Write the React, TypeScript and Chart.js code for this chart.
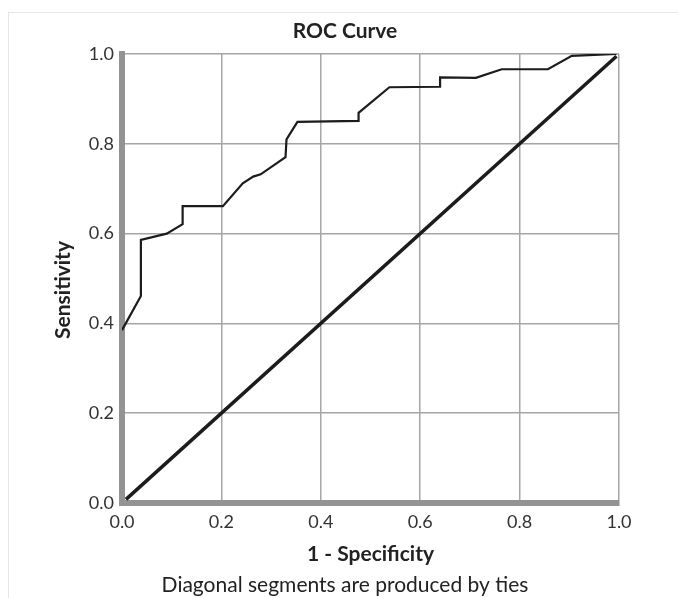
import React, { useEffect, useRef } from "react";
import { Chart, registerables } from "chart.js";

Chart.register(...registerables);

// ROC curve points (1 - Specificity, Sensitivity)
const rocFpr = [0.0, 0.038, 0.038, 0.09, 0.122, 0.122, 0.203, 0.243, 0.264, 0.279, 0.329, 0.331, 0.353, 0.476, 0.476, 0.538, 0.64, 0.64, 0.712, 0.764, 0.857, 0.905, 0.995];
const rocTpr = [0.385, 0.461, 0.586, 0.6, 0.621, 0.661, 0.661, 0.712, 0.727, 0.732, 0.77, 0.81, 0.849, 0.851, 0.869, 0.926, 0.927, 0.948, 0.947, 0.966, 0.966, 0.996, 1.0];

// Reference diagonal
const diagX = [0.008, 0.995];
const diagY = [0.008, 0.995];

const tickValues = [0, 0.2, 0.4, 0.6, 0.8, 1.0];

const chartTitle = "ROC Curve";
const xTitle = "1 - Specificity";
const yTitle = "Sensitivity";
const footnote = "Diagonal segments are produced by ties";

const FONT = "Lato, 'Open Sans', sans-serif";

export default function App() {
  const canvasRef = useRef<HTMLCanvasElement | null>(null);

  useEffect(() => {
    if (!canvasRef.current) return;

    const yTitlePlugin = {
      id: "yTitlePlugin",
      afterDraw(chart: any) {
        const ctx = chart.ctx;
        ctx.save();
        ctx.translate(63, 290);
        ctx.rotate(-Math.PI / 2);
        ctx.font = `bold 21px ${FONT}`;
        ctx.fillStyle = "#222222";
        ctx.textAlign = "center";
        ctx.textBaseline = "middle";
        ctx.fillText(yTitle, 0, 0);
        ctx.restore();
      },
    };

    const chart = new Chart(canvasRef.current, {
      type: "scatter",
      data: {
        datasets: [
          {
            label: "ROC",
            data: rocFpr.map((x, i) => ({ x, y: rocTpr[i] })),
            showLine: true,
            borderColor: "#1c1c1c",
            borderWidth: 2.2,
            pointRadius: 0,
            fill: false,
            tension: 0,
          },
          {
            label: "Reference",
            data: diagX.map((x, i) => ({ x, y: diagY[i] })),
            showLine: true,
            borderColor: "#1c1c1c",
            borderWidth: 3.5,
            pointRadius: 0,
            fill: false,
            tension: 0,
          },
        ],
      },
      options: {
        animation: false,
        responsive: false,
        maintainAspectRatio: false,
        layout: { padding: { left: 71, right: 59, top: 0, bottom: 0 } },
        plugins: {
          legend: { display: false },
          tooltip: { enabled: false },
          title: {
            display: true,
            text: chartTitle,
            color: "#222222",
            font: { family: FONT, size: 21, weight: "bold" },
            padding: { top: 18.4, bottom: 10.4 },
          },
          subtitle: {
            display: true,
            position: "bottom",
            text: footnote,
            color: "#222222",
            font: { family: FONT, size: 21, weight: "normal" },
            padding: { top: 0, bottom: 0.4 },
          },
        },
        scales: {
          x: {
            type: "linear",
            min: 0,
            max: 1,
            afterBuildTicks: (scale: any) => {
              scale.ticks = tickValues.map((v) => ({ value: v }));
            },
            afterFit: (scale: any) => {
              scale.height = 69.4;
            },
            ticks: {
              color: "#333333",
              font: { family: FONT, size: 18 },
              padding: 8,
              maxRotation: 0,
              callback: (v: any) => Number(v).toFixed(1),
            },
            grid: { color: "#a6a6a6", lineWidth: 1.5, drawTicks: false },
            border: { display: true, color: "#939393", width: 6 },
            title: {
              display: true,
              text: xTitle,
              color: "#222222",
              font: { family: FONT, size: 21, weight: "bold" },
              padding: { top: 0, bottom: 5.8 },
            },
          },
          y: {
            type: "linear",
            min: 0,
            max: 1,
            afterBuildTicks: (scale: any) => {
              scale.ticks = tickValues.map((v) => ({ value: v }));
            },
            afterFit: (scale: any) => {
              scale.width = 51;
            },
            ticks: {
              color: "#333333",
              font: { family: FONT, size: 18 },
              padding: 8,
              callback: (v: any) => Number(v).toFixed(1),
            },
            grid: { color: "#a6a6a6", lineWidth: 1.5, drawTicks: false },
            border: { display: true, color: "#939393", width: 6 },
          },
        },
      },
      plugins: [yTitlePlugin],
    } as any);

    return () => {
      chart.destroy();
    };
  }, []);

  return (
    <div
      style={{
        position: "absolute",
        left: 0,
        top: 0,
        width: 678,
        height: 598,
        overflow: "hidden",
        background: "#ffffff",
      }}
    >
      <div
        style={{
          position: "absolute",
          left: 8,
          top: 12,
          width: 700,
          height: 700,
          border: "1px solid #e6e6e6",
          boxSizing: "border-box",
        }}
      />
      <canvas
        ref={canvasRef}
        width={678}
        height={598}
        style={{ position: "absolute", left: 0, top: 0, width: 678, height: 598 }}
      />
    </div>
  );
}
